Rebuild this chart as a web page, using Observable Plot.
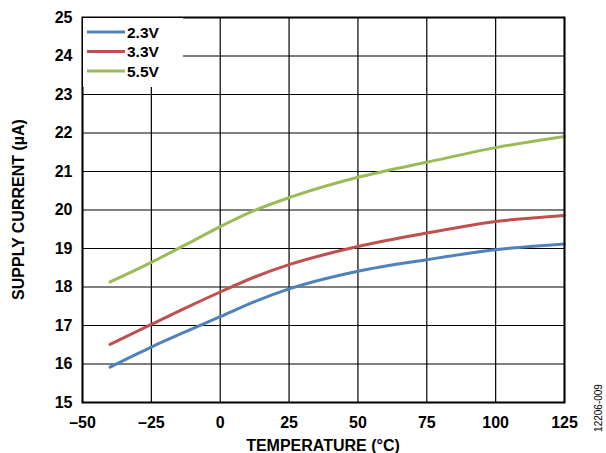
<!DOCTYPE html>
<html>
<head>
<meta charset="utf-8">
<script src="https://cdn.jsdelivr.net/npm/d3@7"></script>
<script src="https://cdn.jsdelivr.net/npm/@observablehq/plot@0.6"></script>
<style>
  html, body { margin: 0; padding: 0; background: #fff; }
  svg { font-family: "Liberation Sans", Arial, sans-serif; }
</style>
</head>
<body>
<div id="chart"></div>
<script>
const temps = [-40, -25, -12.5, 0, 12.5, 25, 50, 75, 100, 125];
const series = ["2.3V", "3.3V", "5.5V"];
const v23 = [15.92, 16.44, 16.84, 17.23, 17.62, 17.95, 18.41, 18.71, 18.97, 19.12];
const v33 = [16.51, 17.03, 17.46, 17.87, 18.26, 18.58, 19.05, 19.40, 19.70, 19.86];
const v55 = [18.13, 18.64, 19.10, 19.57, 19.99, 20.32, 20.85, 21.24, 21.62, 21.91];
const colors = ["#4F81BD", "#C0504D", "#9BBB59"];
const xTicks = [-50, -25, 0, 25, 50, 75, 100, 125];
const yTicks = [15, 16, 17, 18, 19, 20, 21, 22, 23, 24, 25];

const values = [v23, v33, v55];
const data = [];
series.forEach((s, i) => temps.forEach((t, j) => data.push({series: s, t, v: values[i][j]})));

const fmt = d => (d < 0 ? "\u2013" + Math.abs(d) : String(d));

const mL = 82, mR = 42, mT = 17, mB = 51;
const chart = Plot.plot({
  width: 606, height: 453,
  marginLeft: mL, marginRight: mR, marginTop: mT, marginBottom: mB,
  style: {fontFamily: "Liberation Sans, Arial, sans-serif", fontSize: "16px", fontWeight: "bold", color: "#000", background: "#fff"},
  x: {domain: [-50, 125], label: null},
  y: {domain: [15, 25], label: null},
  color: {domain: series, range: colors},
  marks: [
    Plot.gridX(xTicks, {stroke: "#000", strokeOpacity: 1, strokeWidth: 1.2}),
    Plot.gridY(yTicks, {stroke: "#000", strokeOpacity: 1, strokeWidth: 1.2}),
    Plot.axisX({ticks: xTicks, tickFormat: fmt, tickSize: 0, tickPadding: 14, fontSize: 16, fontWeight: "bold", label: null}),
    Plot.axisY({ticks: yTicks, tickSize: 0, tickPadding: 10, fontSize: 16, fontWeight: "bold", label: null}),
    Plot.line(data, {x: "t", y: "v", z: "series", stroke: "series", strokeWidth: 3, curve: "monotone-x"}),
    Plot.frame({stroke: "#000", strokeWidth: 2})
  ]
});
document.getElementById("chart").appendChild(chart);

const svg = d3.select(chart);
// legend box
const lg = svg.append("g").attr("text-anchor", "start");
lg.append("rect").attr("x", mL + 1).attr("y", mT + 1).attr("width", 100).attr("height", 69).attr("fill", "#fff");
series.forEach((s, i) => {
  const y = 32 + i * 19.5;
  lg.append("line").attr("x1", 87).attr("x2", 125).attr("y1", y).attr("y2", y)
    .attr("stroke", colors[i]).attr("stroke-width", 3);
  lg.append("text").attr("x", 127).attr("y", y).attr("dy", "0.36em").attr("text-anchor", "start")
    .attr("font-size", 15.5).attr("font-weight", "bold").attr("fill", "#000").text(s);
});
// axis titles
svg.append("text").attr("x", (mL + 606 - mR) / 2).attr("y", 451).attr("text-anchor", "middle")
  .attr("font-size", 16).attr("font-weight", "bold").attr("fill", "#000")
  .text("TEMPERATURE (°C)");
svg.append("text").attr("transform", `translate(18,${(mT + 453 - mB) / 2}) rotate(-90)`)
  .attr("text-anchor", "middle").attr("dy", "0.36em").attr("font-size", 16).attr("font-weight", "bold")
  .attr("fill", "#000").text("SUPPLY CURRENT (µA)");
svg.append("text").attr("transform", `translate(598,408) rotate(-90)`)
  .attr("text-anchor", "middle").attr("dy", "0.36em").attr("font-size", 10).attr("font-weight", "normal")
  .attr("fill", "#000").text("12206-009");
</script>
</body>
</html>
